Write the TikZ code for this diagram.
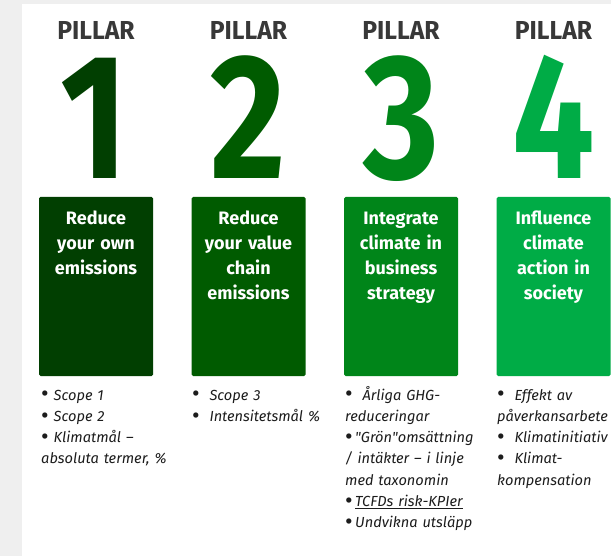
\documentclass[tikz,border=0pt]{standalone}
\usepackage{fontspec}
\setmainfont{Fira Sans}
\usetikzlibrary{positioning}
\definecolor{bggray}{HTML}{EFEFEF}
\definecolor{headgray}{HTML}{383838}
\definecolor{itemgray}{HTML}{1C1C1C}
\definecolor{pone}{HTML}{013F01}
\definecolor{ptwo}{HTML}{005B00}
\definecolor{pthree}{HTML}{008519}
\definecolor{pfour}{HTML}{00AC46}
\newcommand{\itemdot}{\raisebox{-1.8pt}{\scalebox{1.6}{\upshape\textbullet}}}
\begin{document}
\begin{tikzpicture}
		    [%%%%%%%%%%%%%%%%%%%%%%%%%%%%%%
		        x=1pt, y=-1pt,
		        head/.style={font=\bfseries\fontsize{26}{26}\selectfont, text=headgray, inner sep=0pt, anchor=base},
		        digit/.style={font=\bfseries\fontsize{178}{178}\selectfont, inner sep=0pt, anchor=base},
		        box/.style={rectangle, minimum width=114pt, minimum height=179pt, rounded corners=1.5pt, inner sep=0pt},
		        boxtext/.style={font=\bfseries\fontsize{18}{24.8}\selectfont, text=white, text width=114pt, align=center, inner sep=0pt, anchor=base},
		        items/.style={font=\itshape\fontsize{14.6}{21.3}\selectfont, text=itemgray, text width=150pt, align=left, inner sep=0pt, anchor=base west},
		    ]%%%%%%%%%%%%%%%%%%%%%%%%%%%%%%
		\useasboundingbox (0,0) rectangle (611,556);
		\fill[bggray] (0,0) rectangle (611,556);
		\fill[white] (22,4) rectangle (611,556);

		\node[head] (pillar1) at (96,40) {\scalebox{0.95}[1]{PILLAR}};
		\node[head] (pillar2) at (248.5,40) {\scalebox{0.95}[1]{PILLAR}};
		\node[head] (pillar3) at (401,40) {\scalebox{0.95}[1]{PILLAR}};
		\node[head] (pillar4) at (553.5,40) {\scalebox{0.95}[1]{PILLAR}};

		\node[digit, text=pone] (num1) at (94,179) {\scalebox{0.82}[1]{1}};
		\node[digit, text=ptwo] (num2) at (248.5,179) {\scalebox{0.82}[1]{2}};
		\node[digit, text=pthree] (num3) at (401,179) {\scalebox{0.82}[1]{3}};
		\node[digit, text=pfour] (num4) at (553.5,179) {\scalebox{0.82}[1]{4}};

		\node[box, fill=pone] (box1) at (96,286.5) {};
		\node[box, fill=ptwo] (box2) at (248.5,286.5) {};
		\node[box, fill=pthree] (box3) at (401,286.5) {};
		\node[box, fill=pfour] (box4) at (553.5,286.5) {};

		\node[boxtext] (title1) at (96,225) {Reduce\\your own\\emissions};
		\node[boxtext] (title2) at (248.5,225) {Reduce\\your value\\chain\\emissions};
		\node[boxtext] (title3) at (401,225) {Integrate\\climate in\\business\\strategy};
		\node[boxtext] (title4) at (553.5,225) {Influence\\climate\\action in\\society};

		\node[items] (list1) at (41,400) {\itemdot\ Scope 1\\\itemdot\ Scope 2\\\itemdot\ Klimatmål --\\absoluta termer, \%};
		\node[items] (list2) at (192,400) {\itemdot\ \ Scope 3\\\itemdot\ \ Intensitetsmål \%};
		\node[items] (list3) at (345,400) {\itemdot\ \ Årliga GHG-\\reduceringar\\\itemdot\,\textquotedbl Grön\textquotedbl omsättning\\/ intäkter -- i linje\\med taxonomin\\\itemdot\,\underline{TCFDs risk-KPIer}\\\itemdot\,Undvikna utsläpp};
		\node[items] (list4) at (497,400) {\itemdot\ \ Effekt av\\påverkansarbete\\\itemdot\ \ Klimatinitiativ\\\itemdot\ \ Klimat-\\kompensation};
		\end{tikzpicture}
\end{document}
